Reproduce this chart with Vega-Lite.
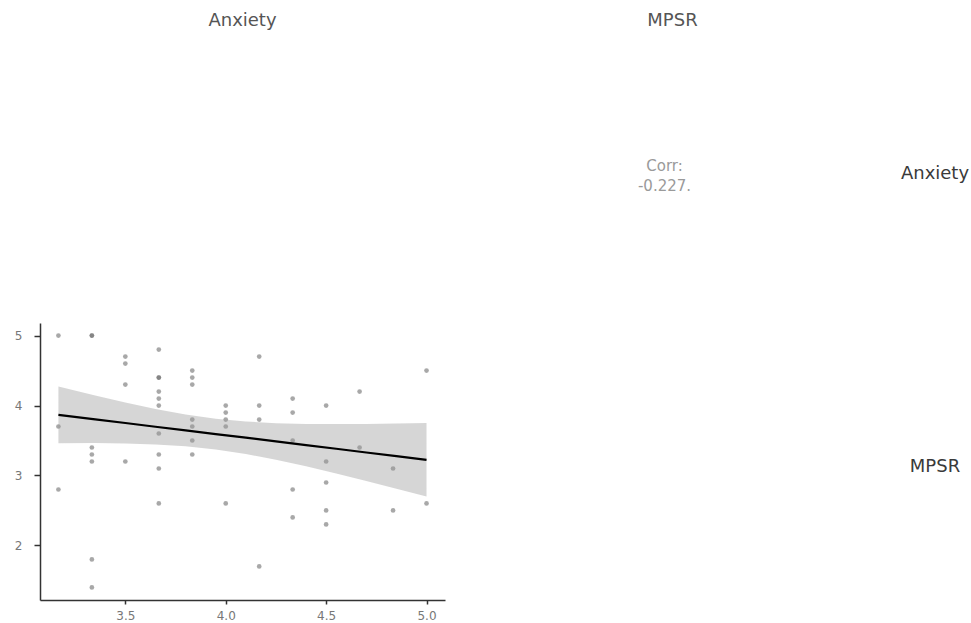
{
  "$schema": "https://vega.github.io/schema/vega-lite/v6.json",
  "background": "white",
  "padding": {"left": 14, "top": 12, "right": 0, "bottom": 0},
  "config": {
    "view": {"stroke": null},
    "font": "DejaVu Sans",
    "title": {"fontSize": 18, "fontWeight": "normal", "color": "#555555", "offset": 5, "anchor": "middle", "font": "DejaVu Sans"}
  },
  "datasets": {
    "points": [
      {"Anxiety": 3.1667, "MPSR": 5.0}, {"Anxiety": 3.1667, "MPSR": 3.7}, {"Anxiety": 3.1667, "MPSR": 2.8},
      {"Anxiety": 3.3333, "MPSR": 5.0}, {"Anxiety": 3.3333, "MPSR": 5.0}, {"Anxiety": 3.3333, "MPSR": 3.4}, {"Anxiety": 3.3333, "MPSR": 3.3}, {"Anxiety": 3.3333, "MPSR": 3.2}, {"Anxiety": 3.3333, "MPSR": 1.8}, {"Anxiety": 3.3333, "MPSR": 1.4},
      {"Anxiety": 3.5, "MPSR": 4.7}, {"Anxiety": 3.5, "MPSR": 4.6}, {"Anxiety": 3.5, "MPSR": 4.3}, {"Anxiety": 3.5, "MPSR": 3.2},
      {"Anxiety": 3.6667, "MPSR": 4.8}, {"Anxiety": 3.6667, "MPSR": 4.4}, {"Anxiety": 3.6667, "MPSR": 4.4}, {"Anxiety": 3.6667, "MPSR": 4.2}, {"Anxiety": 3.6667, "MPSR": 4.1}, {"Anxiety": 3.6667, "MPSR": 4.0}, {"Anxiety": 3.6667, "MPSR": 3.6}, {"Anxiety": 3.6667, "MPSR": 3.3}, {"Anxiety": 3.6667, "MPSR": 3.1}, {"Anxiety": 3.6667, "MPSR": 2.6},
      {"Anxiety": 3.8333, "MPSR": 4.5}, {"Anxiety": 3.8333, "MPSR": 4.4}, {"Anxiety": 3.8333, "MPSR": 4.3}, {"Anxiety": 3.8333, "MPSR": 3.8}, {"Anxiety": 3.8333, "MPSR": 3.7}, {"Anxiety": 3.8333, "MPSR": 3.5}, {"Anxiety": 3.8333, "MPSR": 3.3},
      {"Anxiety": 4.0, "MPSR": 4.0}, {"Anxiety": 4.0, "MPSR": 3.9}, {"Anxiety": 4.0, "MPSR": 3.8}, {"Anxiety": 4.0, "MPSR": 3.7}, {"Anxiety": 4.0, "MPSR": 2.6},
      {"Anxiety": 4.1667, "MPSR": 4.7}, {"Anxiety": 4.1667, "MPSR": 4.0}, {"Anxiety": 4.1667, "MPSR": 3.8}, {"Anxiety": 4.1667, "MPSR": 1.7},
      {"Anxiety": 4.3333, "MPSR": 4.1}, {"Anxiety": 4.3333, "MPSR": 3.9}, {"Anxiety": 4.3333, "MPSR": 3.5}, {"Anxiety": 4.3333, "MPSR": 2.8}, {"Anxiety": 4.3333, "MPSR": 2.4},
      {"Anxiety": 4.5, "MPSR": 4.0}, {"Anxiety": 4.5, "MPSR": 3.2}, {"Anxiety": 4.5, "MPSR": 2.9}, {"Anxiety": 4.5, "MPSR": 2.5}, {"Anxiety": 4.5, "MPSR": 2.3},
      {"Anxiety": 4.6667, "MPSR": 4.2}, {"Anxiety": 4.6667, "MPSR": 3.4},
      {"Anxiety": 4.8333, "MPSR": 3.1}, {"Anxiety": 4.8333, "MPSR": 2.5},
      {"Anxiety": 5.0, "MPSR": 4.5}, {"Anxiety": 5.0, "MPSR": 2.6}
    ],
    "fit": [
      {"Anxiety": 3.1667, "fit": 3.867, "lo": 3.461, "hi": 4.273},
      {"Anxiety": 3.35, "fit": 3.803, "lo": 3.463, "hi": 4.143},
      {"Anxiety": 3.5, "fit": 3.750, "lo": 3.458, "hi": 4.042},
      {"Anxiety": 3.65, "fit": 3.697, "lo": 3.444, "hi": 3.950},
      {"Anxiety": 3.8, "fit": 3.645, "lo": 3.418, "hi": 3.872},
      {"Anxiety": 3.95, "fit": 3.592, "lo": 3.373, "hi": 3.811},
      {"Anxiety": 4.1, "fit": 3.540, "lo": 3.308, "hi": 3.772},
      {"Anxiety": 4.25, "fit": 3.487, "lo": 3.226, "hi": 3.748},
      {"Anxiety": 4.4, "fit": 3.434, "lo": 3.131, "hi": 3.737},
      {"Anxiety": 4.55, "fit": 3.382, "lo": 3.029, "hi": 3.735},
      {"Anxiety": 4.7, "fit": 3.329, "lo": 2.921, "hi": 3.737},
      {"Anxiety": 4.85, "fit": 3.277, "lo": 2.811, "hi": 3.743},
      {"Anxiety": 5.0, "fit": 3.224, "lo": 2.698, "hi": 3.750}
    ]
  },
  "columns": 3,
  "align": "each",
  "spacing": {"row": 11, "column": 25},
  "concat": [
    {
      "width": 405, "height": 277,
      "title": "Anxiety",
      "data": {"values": [{"t": ""}]},
      "mark": {"type": "text"},
      "encoding": {"text": {"field": "t"}}
    },
    {
      "width": 405, "height": 277,
      "title": "MPSR",
      "data": {"values": [{"label": "Corr:\n-0.227."}]},
      "mark": {"type": "text", "lineBreak": "\n", "fontSize": 15, "lineHeight": 20, "dy": -8, "dx": -8, "color": "#9a9a9a", "font": "DejaVu Sans"},
      "encoding": {"text": {"field": "label"}}
    },
    {
      "width": 50, "height": 277,
      "data": {"values": [{"label": "Anxiety"}]},
      "mark": {"type": "text", "fontSize": 18, "color": "#3a3a3a", "font": "DejaVu Sans", "dx": -4},
      "encoding": {"text": {"field": "label"}}
    },
    {
      "width": 405, "height": 277,
      "layer": [
        {
          "data": {"name": "points"},
          "mark": {"type": "circle", "size": 22, "color": "#6e6e6e", "opacity": 0.6},
          "encoding": {
            "x": {"field": "Anxiety", "type": "quantitative", "scale": {"domain": [3.075, 5.092], "nice": false, "zero": false},
              "axis": {"values": [3.5, 4, 4.5, 5], "format": ".1f", "title": null, "grid": false, "domainColor": "#333333", "domainWidth": 1.5, "tickColor": "#333333", "tickWidth": 1.5, "tickSize": 4, "labelFontSize": 12, "labelColor": "#777777", "labelPadding": 6}},
            "y": {"field": "MPSR", "type": "quantitative", "scale": {"domain": [1.22, 5.18], "nice": false, "zero": false},
              "axis": {"values": [2, 3, 4, 5], "format": "d", "title": null, "grid": false, "domainColor": "#333333", "domainWidth": 1.5, "tickColor": "#333333", "tickWidth": 1.5, "tickSize": 6, "labelFontSize": 12, "labelColor": "#777777", "labelPadding": 12}}
          }
        },
        {
          "data": {"name": "fit"},
          "mark": {"type": "area", "color": "#999999", "opacity": 0.4},
          "encoding": {
            "x": {"field": "Anxiety", "type": "quantitative"},
            "y": {"field": "lo", "type": "quantitative"},
            "y2": {"field": "hi"}
          }
        },
        {
          "data": {"name": "fit"},
          "mark": {"type": "line", "color": "#000000", "strokeWidth": 2.2},
          "encoding": {
            "x": {"field": "Anxiety", "type": "quantitative"},
            "y": {"field": "fit", "type": "quantitative"}
          }
        }
      ]
    },
    {
      "width": 405, "height": 277,
      "data": {"values": [{"t": ""}]},
      "mark": {"type": "text"},
      "encoding": {"text": {"field": "t"}}
    },
    {
      "width": 50, "height": 277,
      "data": {"values": [{"label": "MPSR"}]},
      "mark": {"type": "text", "fontSize": 18, "color": "#3a3a3a", "font": "DejaVu Sans", "dx": -4, "dy": 5},
      "encoding": {"text": {"field": "label"}}
    }
  ]
}
